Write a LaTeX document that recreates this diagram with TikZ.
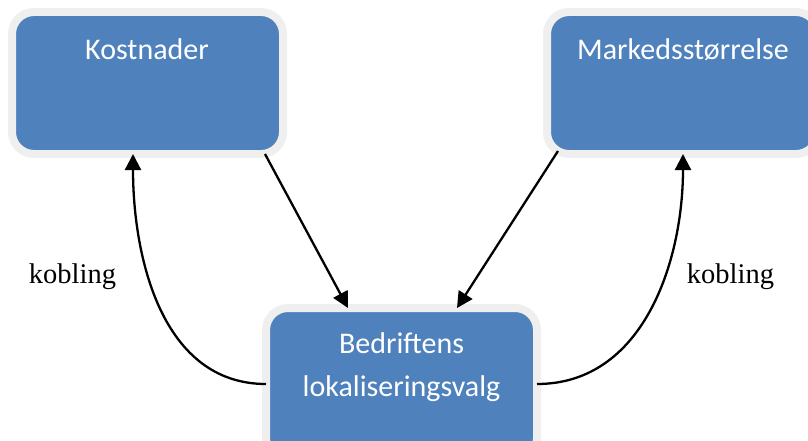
\documentclass[tikz,border=0pt]{standalone}
\usepackage{fontspec}
\setmainfont{Liberation Serif}
\newfontfamily\boxfont{Carlito}
\usetikzlibrary{arrows.meta}
\definecolor{boxblue}{HTML}{4F81BD}
\definecolor{boxrim}{HTML}{EFEFEF}
\tikzset{
  factorbox/.style={draw=boxrim, fill=boxblue, line width=8pt, rounded corners=22pt,
    minimum width=271pt, inner sep=0pt, outer sep=0pt},
  boxlabel/.style={text=white, font=\boxfont\fontsize{30}{43}\selectfont, anchor=base, inner sep=0pt},
  linklabel/.style={font=\fontsize{28.5}{30}\selectfont, anchor=base, inner sep=0pt},
  flow/.style={line width=2.3pt, -{Triangle[length=16pt,width=16pt]}},
}
\begin{document}
\begin{tikzpicture}[x=1pt,y=-1pt]
  \useasboundingbox (0,0) rectangle (808,441);
  \clip (0,0) rectangle (808,441);

  % the three boxes
  \node[factorbox, minimum height=142pt] (kost) at (147.5,83) {};
  \node[factorbox, minimum height=142pt] (mark) at (682.5,83) {};
  \node[factorbox, minimum height=152pt] (loc) at (401.5,384) {};

  % box titles
  \node[boxlabel] (kosttxt) at (147,60) {Kostnader};
  \node[boxlabel] (marktxt) at (683,60) {Markedsstørrelse};
  \node[boxlabel] (loctxt1) at (401.5,353) {Bedriftens};
  \node[boxlabel] (loctxt2) at (401.5,396) {lokaliseringsvalg};

  % direct influences
  \draw[flow] ([xshift=-18pt]kost.south east) -- ([xshift=-53.5pt]loc.north);
  \draw[flow] ([xshift=11pt,yshift=3pt]mark.south west) -- ([xshift=55.5pt]loc.north);

  % feedback links
  \draw[flow] (loc.west) to[out=180,in=-90] ([xshift=-14.5pt]kost.south);
  \draw[flow] (loc.east) to[out=0,in=-90] ([xshift=0.5pt]mark.south);

  \node[linklabel] (lk1) at (72.5,283) {kobling};
  \node[linklabel] (lk2) at (730.5,283) {kobling};
\end{tikzpicture}
\end{document}
